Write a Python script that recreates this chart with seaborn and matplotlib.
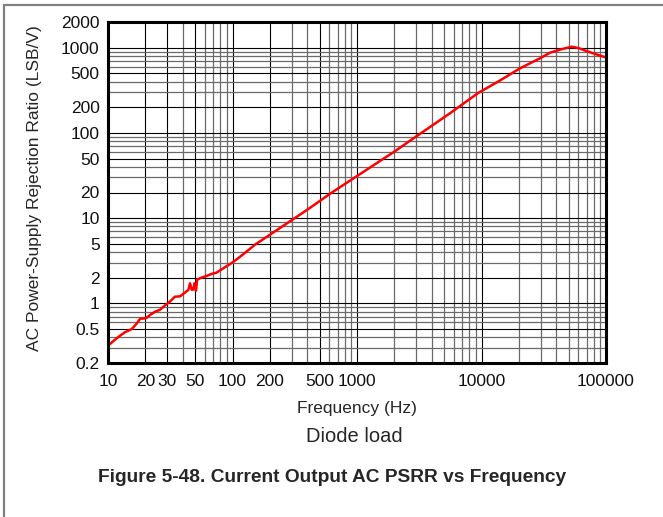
import matplotlib
matplotlib.use("Agg")
import numpy as np
import pandas as pd
import matplotlib.pyplot as plt
import matplotlib.ticker as mticker
import seaborn as sns

# Values (Hz, LSB/V)
freq = [10, 11, 12, 13.7, 15.5, 17, 18.1, 20.2, 22, 23.9, 26.1, 28, 31.4, 34.5,
        37.9, 41, 44.2, 45.6, 47, 48.5, 49.4, 50.9, 52, 56, 62, 68, 74.2, 85,
        101, 120, 152, 200, 290, 400, 607, 1000, 2018, 2666, 5585, 9440, 14000,
        20400, 29500, 35500, 44000, 53100, 60000, 75000, 96300, 100000]
psrr = [0.32, 0.36, 0.40, 0.46, 0.50, 0.58, 0.66, 0.67, 0.74, 0.80, 0.84, 0.92,
        1.05, 1.20, 1.21, 1.32, 1.44, 1.72, 1.45, 1.46, 1.72, 1.41, 1.90, 2.00,
        2.10, 2.22, 2.29, 2.60, 3.05, 3.70, 4.90, 6.40, 9.20, 12.6, 19.3, 31.2,
        61.0, 81.0, 170, 295, 410, 573, 750, 873, 960, 1026, 990, 880, 780, 770]

xticks = [10, 20, 30, 50, 100, 200, 500, 1000, 10000, 100000]
xticklabels = ["10", "20", "30", "50", "100", "200", "500", "1000", "10000", "100000"]
yticks = [0.2, 0.5, 1, 2, 5, 10, 20, 50, 100, 200, 500, 1000, 2000]
yticklabels = ["0.2", "0.5", "1", "2", "5", "10", "20", "50", "100", "200", "500", "1000", "2000"]

df = pd.DataFrame({"freq": freq, "psrr": psrr})

sns.set_style("white")
plt.rcParams["font.family"] = ["Liberation Sans", "DejaVu Sans"]

fig = plt.figure(figsize=(6.63, 5.17), dpi=100)
W, H = 663, 517
ax = fig.add_axes([108 / W, 1 - 363 / H, (606 - 108) / W, (363 - 22) / H])

sns.lineplot(data=df, x="freq", y="psrr", ax=ax, color="red", linewidth=1.8,
             estimator=None, sort=False, zorder=5)

ax.set_xscale("log")
ax.set_yscale("log")
ax.set_xlim(10, 100000)
ax.set_ylim(0.2, 2000)

ax.xaxis.set_major_locator(mticker.FixedLocator(xticks))
ax.xaxis.set_major_formatter(mticker.FixedFormatter(xticklabels))
ax.xaxis.set_minor_locator(mticker.LogLocator(base=10, subs=np.arange(2, 10)))
ax.xaxis.set_minor_formatter(mticker.NullFormatter())
ax.yaxis.set_major_locator(mticker.FixedLocator(yticks))
ax.yaxis.set_major_formatter(mticker.FixedFormatter(yticklabels))
ax.yaxis.set_minor_locator(mticker.LogLocator(base=10, subs=np.arange(2, 10)))
ax.yaxis.set_minor_formatter(mticker.NullFormatter())

ax.grid(which="minor", color="#6a6a6a", linewidth=0.9)
ax.grid(which="major", color="black", linewidth=0.8)
ax.set_axisbelow(True)

ax.tick_params(which="both", length=0)
ax.tick_params(axis="x", labelsize=12.5, pad=8, colors="#111111")
ax.tick_params(axis="y", labelsize=12.5, pad=6, colors="#111111")

for s in ax.spines.values():
    s.set_color("black")
    s.set_linewidth(2.2)
    s.set_zorder(6)

ax.set_xlabel("")
ax.set_ylabel("")

fig.text(357 / W, 1 - 408 / H, "Frequency (Hz)", ha="center", va="center", fontsize=12.5)
fig.text(35 / W, 1 - 188 / H, "AC Power-Supply Rejection Ratio (LSB/V)",
         ha="center", va="center", rotation=90, fontsize=12.5)
fig.text(354 / W, 1 - 437 / H, "Diode load", ha="center", va="center", fontsize=14.5)
fig.text(332 / W, 1 - 477 / H, "Figure 5-48. Current Output AC PSRR vs Frequency",
         ha="center", va="center", fontsize=13.8, fontweight="bold")

# outer frame (top and left edges visible)
fig.add_artist(plt.Line2D([4 / W, 1], [1 - 5 / H, 1 - 5 / H], color="#808080", linewidth=1.6))
fig.add_artist(plt.Line2D([4 / W, 4 / W], [0, 1 - 5 / H], color="#808080", linewidth=1.6))

fig.savefig("out.png", dpi=100)
